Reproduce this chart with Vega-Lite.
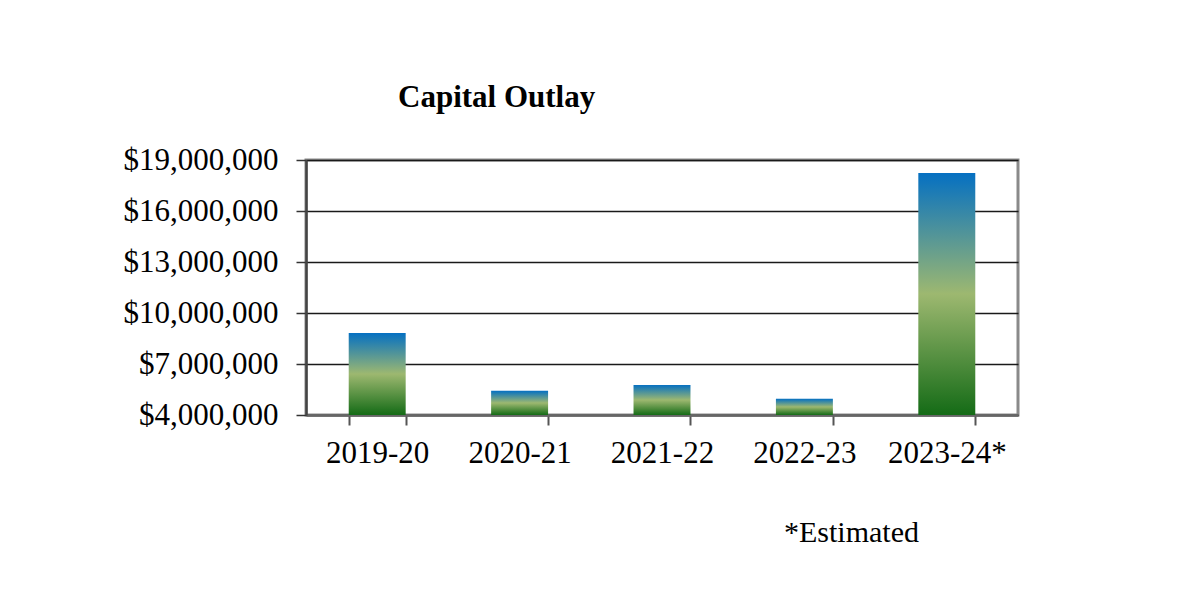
{
  "$schema": "https://vega.github.io/schema/vega-lite/v6.json",
  "autosize": {"type": "none"},
  "padding": {"left": 306, "top": 160, "right": 176, "bottom": 184},
  "width": 712,
  "height": 255,
  "background": "white",
  "title": {
    "text": "Capital  Outlay",
    "anchor": "start",
    "frame": "group",
    "dx": 92,
    "offset": 30,
    "font": "Liberation Serif",
    "fontSize": 31,
    "fontWeight": "bold",
    "color": "#000000"
  },
  "data": {
    "values": [
      {"year": "2019-20", "amount": 8830000},
      {"year": "2020-21", "amount": 5420000},
      {"year": "2021-22", "amount": 5770000},
      {"year": "2022-23", "amount": 4950000},
      {"year": "2023-24*", "amount": 18240000}
    ]
  },
  "mark": {
    "type": "bar",
    "color": {
      "gradient": "linear",
      "x1": 0, "y1": 0, "x2": 0, "y2": 1,
      "stops": [
        {"offset": 0, "color": "#0570c2"},
        {"offset": 0.5, "color": "#9db870"},
        {"offset": 1, "color": "#146b16"}
      ]
    }
  },
  "encoding": {
    "x": {
      "field": "year",
      "type": "nominal",
      "sort": null,
      "scale": {"paddingInner": 0.6, "paddingOuter": 0.3},
      "axis": {
        "title": "*Estimated",
        "titleX": 545,
        "titleY": 126,
        "titleAlign": "center",
        "titleBaseline": "alphabetic",
        "titleFont": "Liberation Serif",
        "titleFontSize": 30,
        "titleFontWeight": "normal",
        "titleColor": "#000000",
        "labelAngle": 0,
        "labelFont": "Liberation Serif",
        "labelFontSize": 31,
        "labelColor": "#000000",
        "labelPadding": 13,
        "tickSize": 10,
        "tickBand": "extent",
        "tickColor": "#555555",
        "tickWidth": 2,
        "domainColor": "#666666",
        "domainWidth": 2.5
      }
    },
    "y": {
      "field": "amount",
      "type": "quantitative",
      "scale": {"domain": [4000000, 19000000], "nice": false, "zero": false},
      "axis": {
        "title": null,
        "values": [4000000, 7000000, 10000000, 13000000, 16000000, 19000000],
        "format": "$,.0f",
        "labelFont": "Liberation Serif",
        "labelFontSize": 31,
        "labelColor": "#000000",
        "labelPadding": 18,
        "tickSize": 10,
        "tickColor": "#333333",
        "tickWidth": 1.5,
        "domainColor": "#444444",
        "domainWidth": 2.5,
        "grid": true,
        "gridColor": "#1a1a1a",
        "gridWidth": 1.5
      }
    },
    "y2": {"datum": 4000000}
  },
  "config": {
    "view": {"stroke": "#8a8a8a", "strokeWidth": 3}
  }
}
